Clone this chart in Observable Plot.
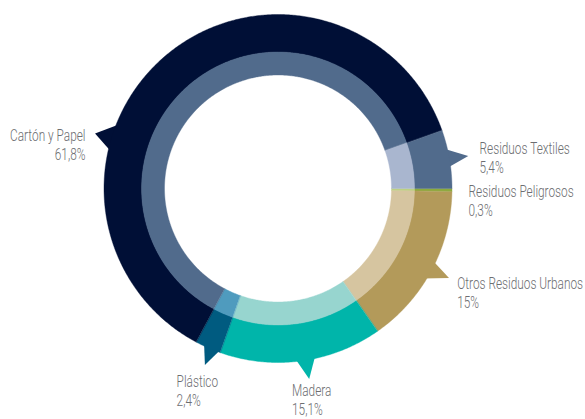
<!DOCTYPE html>
<html>
<head>
<meta charset="utf-8">
<script src="https://cdn.jsdelivr.net/npm/d3@7"></script>
<script src="https://cdn.jsdelivr.net/npm/@observablehq/plot@0.6"></script>
<style>
  html, body { margin: 0; padding: 0; background: #ffffff; }
  #chart { width: 585px; height: 419px; overflow: hidden; }
</style>
</head>
<body>
<div id="chart"></div>
<script>
// ---- Data (clockwise from 3 o'clock) ----
const categories = ["Residuos Peligrosos", "Otros Residuos Urbanos", "Madera", "Plástico", "Cartón y Papel", "Residuos Textiles"];
const values = [0.3, 15, 15.1, 2.4, 61.8, 5.4];
const valueLabels = ["0,3%", "15%", "15,1%", "2,4%", "61,8%", "5,4%"];

// ---- Styles ----
const outerColors = ["#8bab3d", "#b39a5a", "#00b5aa", "#005b80", "#000f36", "#516b8c"];
const innerColors = ["#bcd183", "#d6c5a0", "#97d5cf", "#4f9bbe", "#516b8c", "#a9b6cf"];

// ---- Layout ----
const W = 585, H = 419;
const cx = 278, cy = 188.5;
const rIn = 113.5, rMid = 136.5, rOut = 174;
const startAngle = 90;
// pointer: [baseStart, baseEnd, tipAngle, tipRadius] per category (null = none)
const pointers = [null, [114.9, 122, 117.6, 193], [167.2, 174.4, 170.7, 193], [199.4, 205.8, 202.5, 191], [282.2, 292.4, 286.7, 191], [76.4, 83.2, 80.3, 193]];
// label anchor: [angle, radius, textAnchor]
const labelPos = [[88.5, 190.1, "start"], [115.8, 198.5, "start"], [176, 194, "start"], [208.9, 210.8, "start"], [287.7, 202.6, "end"], [76.4, 206.8, "start"]];
const textScaleX = 0.74;

function polar(deg, r) {
  const a = deg * Math.PI / 180;
  return [cx + r * Math.sin(a), cy - r * Math.cos(a)];
}

let acc = startAngle;
const segs = categories.map((c, i) => {
  const a0 = acc, a1 = acc + values[i] * 3.6;
  acc = a1;
  return {c, i, a0, a1};
});

function ringRows(r0, r1, colors, tag) {
  const rows = [];
  for (const s of segs) {
    const n = Math.max(2, Math.ceil((s.a1 - s.a0) / 0.5));
    for (let k = 0; k <= n; k++) {
      const a = s.a0 + (s.a1 - s.a0) * k / n;
      const [x1, y1] = polar(a, r0);
      const [x2, y2] = polar(a, r1);
      rows.push({key: tag + s.i, x1, y1, x2, y2, color: colors[s.i]});
    }
  }
  return rows;
}

const outerRows = ringRows(rMid - 0.3, rOut, outerColors, "o");
const innerRows = ringRows(rIn, rMid, innerColors, "i");

const pointerRows = [];
pointers.forEach((p, i) => {
  if (!p) return;
  const [b0, b1, ta, tr] = p;
  const [ax, ay] = polar(b0, rOut - 4);
  const [bx, by] = polar(b1, rOut - 4);
  const [tx, ty] = polar(ta, tr);
  pointerRows.push({key: "p" + i, x1: ax, y1: ay, x2: bx, y2: by, color: outerColors[i]});
  pointerRows.push({key: "p" + i, x1: tx, y1: ty, x2: tx, y2: ty, color: outerColors[i]});
});

const labels = categories.map((c, i) => {
  const [deg, r, anchor] = labelPos[i];
  const [x, y] = polar(deg, r);
  return {x, y, anchor, text: c + "\n" + valueLabels[i]};
});

const font = "Roboto, 'DejaVu Sans', sans-serif";
const textOpts = {x: "x", y: "y", text: "text", lineAnchor: "top", lineHeight: 1.18, fontSize: 16, fontWeight: 300, fontFamily: font, fill: "#6d6e71"};

const chart = Plot.plot({
  width: W,
  height: H,
  margin: 0,
  style: {background: "#ffffff"},
  x: {domain: [0, W], range: [0, W], axis: null},
  y: {domain: [0, H], range: [0, H], axis: null},
  color: {type: "identity"},
  marks: [
    Plot.area(pointerRows, {x1: "x1", y1: "y1", x2: "x2", y2: "y2", z: "key", fill: "color", curve: "linear"}),
    Plot.area(outerRows, {x1: "x1", y1: "y1", x2: "x2", y2: "y2", z: "key", fill: "color", stroke: "color", strokeWidth: 0.4, curve: "linear"}),
    Plot.area(innerRows, {x1: "x1", y1: "y1", x2: "x2", y2: "y2", z: "key", fill: "color", stroke: "color", strokeWidth: 0.4, curve: "linear"}),
    Plot.text(labels.filter(d => d.anchor === "start"), {...textOpts, textAnchor: "start"}),
    Plot.text(labels.filter(d => d.anchor === "end"), {...textOpts, textAnchor: "end"})
  ]
});
// condense label text horizontally around its anchor
chart.querySelectorAll("g[aria-label='text'] text").forEach(t => {
  const tr = t.getAttribute("transform") || "";
  t.setAttribute("transform", tr + ` scale(${textScaleX},1)`);
});
document.getElementById("chart").appendChild(chart);
</script>
</body>
</html>
